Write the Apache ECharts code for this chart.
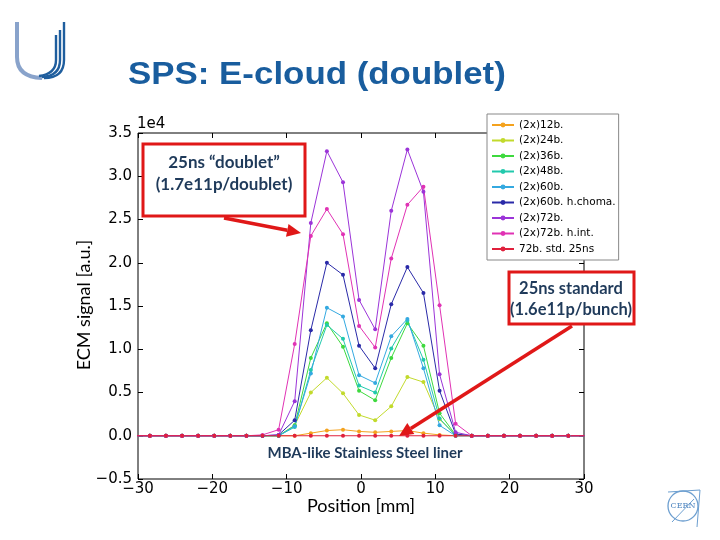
<!DOCTYPE html>
<html>
<head>
<meta charset="utf-8">
<script src="https://cdn.jsdelivr.net/npm/echarts@6/dist/echarts.min.js"></script>
<style>html,body{margin:0;padding:0;background:#fff}#c{width:720px;height:540px}</style>
</head>
<body>
<div id="c"></div>
<script>
// Position of strips [mm]
const positions = [-30.57, -28.40, -26.24, -24.07, -21.91, -19.74, -17.58, -15.41, -13.25, -11.08, -8.92, -6.75, -4.59, -2.42, -0.26, 1.91, 4.07, 6.24, 8.40, 10.57, 12.73, 14.90, 17.06, 19.23, 21.39, 23.56, 25.72, 27.89, 30.06];
// ECM signal in units of 1e4
const s12b    = [0,0,0,0,0,0,0,0,0,0,0,0.03,0.06,0.07,0.05,0.04,0.05,0.06,0.03,0.01,0,0,0,0,0,0,0,0,0];
const s24b    = [0,0,0,0,0,0,0,0,0,0,0.12,0.50,0.67,0.49,0.24,0.18,0.34,0.68,0.62,0.19,0.01,0,0,0,0,0,0,0,0];
const s36b    = [0,0,0,0,0,0,0,0,0,0,0.12,0.90,1.30,1.03,0.52,0.41,0.90,1.30,1.04,0.26,0.01,0,0,0,0,0,0,0,0];
const s48b    = [0,0,0,0,0,0,0,0,0,0,0.10,0.76,1.28,1.12,0.58,0.50,1.01,1.33,0.88,0.20,0,0,0,0,0,0,0,0,0];
const s60b    = [0,0,0,0,0,0,0,0,0,0,0.11,0.72,1.48,1.38,0.70,0.61,1.15,1.35,0.78,0.12,0,0,0,0,0,0,0,0,0];
const s60bHC  = [0,0,0,0,0,0,0,0,0,0.01,0.18,1.22,2.00,1.86,1.04,0.78,1.52,1.95,1.65,0.52,0.02,0,0,0,0,0,0,0,0];
const s72b    = [0,0,0,0,0,0,0,0,0,0.01,0.40,2.46,3.29,2.93,1.57,1.23,2.60,3.31,2.82,0.71,0.04,0,0,0,0,0,0,0,0];
const s72bHI  = [0,0,0,0,0,0,0,0,0.01,0.07,1.06,2.31,2.62,2.33,1.27,1.02,2.05,2.67,2.88,1.51,0.14,0,0,0,0,0,0,0,0];
const s72bStd = [0,0,0,0,0,0,0,0,0,0,0,0,0,0,0,0,0,0,0,0,0,0,0,0,0,0,0,0,0];
const seriesNames = ['(2x)12b.', '(2x)24b.', '(2x)36b.', '(2x)48b.', '(2x)60b.', '(2x)60b. h.choma.', '(2x)72b.', '(2x)72b. h.int.', '72b. std. 25ns'];
const seriesValues = [s12b, s24b, s36b, s48b, s60b, s60bHC, s72b, s72bHI, s72bStd];
const seriesColors = ['#f4a21e', '#c2da2c', '#3ed93e', '#22c9ad', '#34a9e0', '#2a2aa8', '#9b34d8', '#e032b4', '#e0203c'];
const xTicks = {min: -30, max: 30, interval: 10};
const yTicks = {min: -0.5, max: 3.5, interval: 0.5};

const chart = echarts.init(document.getElementById('c'), null, {renderer: 'canvas'});
const fmtMinus = (v, d) => (v < 0 ? '\u2212' + Math.abs(v).toFixed(d) : v.toFixed(d));

function arrow(x1, y1, x2, y2, color) {
  const ang = Math.atan2(y2 - y1, x2 - x1);
  const L = 14, W = 6.5;
  const bx = x2 - L * Math.cos(ang), by = y2 - L * Math.sin(ang);
  const px = -Math.sin(ang), py = Math.cos(ang);
  return [
    {type: 'line', z: 100, shape: {x1: x1, y1: y1, x2: bx, y2: by}, style: {stroke: color, lineWidth: 3.5}},
    {type: 'polygon', z: 100, shape: {points: [[x2, y2], [bx + px * W, by + py * W], [bx - px * W, by - py * W]]}, style: {fill: color}}
  ];
}
function stroke(xTop, yTop, yBend, xEnd, yEnd, cx, cy, color, w) {
  return [
    {type: 'line', z: 100, shape: {x1: xTop, y1: yTop, x2: xTop, y2: yBend}, style: {stroke: color, lineWidth: w}},
    {type: 'bezierCurve', z: 100, shape: {x1: xTop, y1: yBend, cpx1: cx, cpy1: cy, x2: xEnd, y2: yEnd}, style: {stroke: color, lineWidth: w, fill: null}}
  ];
}
const red = '#e01818';
const annColor = '#1f3a5a';
const annFont = 'bold 17px Lato';
const annFont2 = 'bold 16.5px Lato';

let graphics = [
  {type: 'text', z: 100, x: 128, y: 75, scaleX: 1.09, style: {text: 'SPS: E-cloud (doublet)', font: 'bold 32px "Liberation Sans"', fill: '#195d9e', align: 'left', verticalAlign: 'middle'}},
  // CERN logo
  {type: 'circle', z: 100, shape: {cx: 683, cy: 506, r: 15}, style: {stroke: '#6d9fd0', lineWidth: 1.3, fill: null}},
  {type: 'polyline', z: 100, shape: {points: [[668, 492], [700, 490], [697, 527]]}, style: {stroke: '#6d9fd0', lineWidth: 1, fill: null}},
  {type: 'line', z: 100, shape: {x1: 672, y1: 522, x2: 694, y2: 499}, style: {stroke: '#6d9fd0', lineWidth: 1}},
  {type: 'text', z: 101, x: 683, y: 506, style: {text: 'CERN', font: '8px "DejaVu Serif"', fill: '#4f86c0', align: 'center', verticalAlign: 'middle'}},
  // axis titles
  {type: 'text', z: 100, x: 84, y: 305, rotation: Math.PI / 2, style: {text: 'ECM signal [a.u.]', font: '18px Lato', fill: '#000', align: 'center', verticalAlign: 'middle'}},
  {type: 'text', z: 100, x: 361, y: 506, style: {text: 'Position [mm]', font: '18px Lato', fill: '#000', align: 'center', verticalAlign: 'middle'}},
  {type: 'text', z: 100, x: 137, y: 124, style: {text: '1e4', font: '15px "DejaVu Sans"', fill: '#000', align: 'left', verticalAlign: 'middle'}},
  // annotation boxes
  {type: 'rect', z: 100, shape: {x: 143, y: 144, width: 162, height: 72}, style: {fill: '#fff', stroke: red, lineWidth: 3}},
  {type: 'text', z: 101, x: 224, y: 163, style: {text: '25ns \u201cdoublet\u201d', font: annFont, fill: annColor, align: 'center', verticalAlign: 'middle'}},
  {type: 'text', z: 101, x: 224, y: 185, style: {text: '(1.7e11p/doublet)', font: annFont, fill: annColor, align: 'center', verticalAlign: 'middle'}},
  {type: 'rect', z: 100, shape: {x: 509, y: 272, width: 125, height: 52}, style: {fill: '#fff', stroke: red, lineWidth: 3}},
  {type: 'text', z: 101, x: 571, y: 289, style: {text: '25ns standard', font: annFont2, fill: annColor, align: 'center', verticalAlign: 'middle'}},
  {type: 'text', z: 101, x: 571, y: 310, style: {text: '(1.6e11p/bunch)', font: annFont2, fill: annColor, align: 'center', verticalAlign: 'middle'}},
  {type: 'text', z: 101, x: 365, y: 453, style: {text: 'MBA-like Stainless Steel liner', font: 'bold 15px Lato', fill: annColor, align: 'center', verticalAlign: 'middle'}}
];
graphics = graphics
  .concat(stroke(17, 22, 57, 42, 78, 17, 77, '#89a3cb', 4))
  .concat(stroke(64, 22, 60, 44, 78, 64, 78, '#1f5e9e', 2.4))
  .concat(stroke(60, 30, 60, 42, 77, 60, 76, '#1f5e9e', 2.4))
  .concat(stroke(56, 35, 60, 39, 76, 56, 74, '#1f5e9e', 2.4))
  .concat(arrow(224, 218, 301, 233, red))
  .concat(arrow(572, 326, 399, 436, red));

const series = seriesNames.map((name, i) => ({
  name: name,
  type: 'line',
  xAxisIndex: 0,
  yAxisIndex: 0,
  data: positions.map((x, j) => [x, seriesValues[i][j]]),
  symbol: 'circle',
  symbolSize: 4,
  showSymbol: true,
  color: seriesColors[i],
  lineStyle: {width: 1, color: seriesColors[i]},
  itemStyle: {color: seriesColors[i]},
  animation: false,
  emphasis: {disabled: true}
}));

const tickStyle = {inside: true, length: 5, lineStyle: {color: '#000', width: 1}};
const noLine = {show: false, onZero: false};
chart.setOption({
  animation: false,
  backgroundColor: '#fff',
  grid: {left: 138, right: 136, top: 133, bottom: 61, show: true, borderColor: '#000', borderWidth: 1, backgroundColor: 'transparent'},
  xAxis: [
    {type: 'value', position: 'bottom', min: xTicks.min, max: xTicks.max, interval: xTicks.interval,
     axisLine: noLine, axisTick: tickStyle, splitLine: {show: false},
     axisLabel: {formatter: v => fmtMinus(v, 0), fontFamily: 'DejaVu Sans', fontSize: 15, color: '#000', margin: 3}},
    {type: 'value', position: 'top', min: xTicks.min, max: xTicks.max, interval: xTicks.interval,
     axisLine: noLine, axisTick: tickStyle, splitLine: {show: false}, axisLabel: {show: false}}
  ],
  yAxis: [
    {type: 'value', position: 'left', min: yTicks.min, max: yTicks.max, interval: yTicks.interval,
     axisLine: noLine, axisTick: tickStyle, splitLine: {show: false},
     axisLabel: {formatter: v => fmtMinus(v, 1), fontFamily: 'DejaVu Sans', fontSize: 15, color: '#000', margin: 6}},
    {type: 'value', position: 'right', min: yTicks.min, max: yTicks.max, interval: yTicks.interval,
     axisLine: noLine, axisTick: tickStyle, splitLine: {show: false}, axisLabel: {show: false}}
  ],
  legend: {
    show: true, orient: 'vertical', left: 487, top: 114,
    data: seriesNames,
    backgroundColor: '#fff', borderColor: '#888', borderWidth: 1,
    padding: [5, 3, 5, 4], itemWidth: 22, itemHeight: 6, itemGap: 3.5,
    textStyle: {fontFamily: 'DejaVu Sans', fontSize: 10.5, color: '#000', lineHeight: 12},
    selectedMode: false, z: 50
  },
  graphic: graphics,
  series: series
});
</script>
</body>
</html>
